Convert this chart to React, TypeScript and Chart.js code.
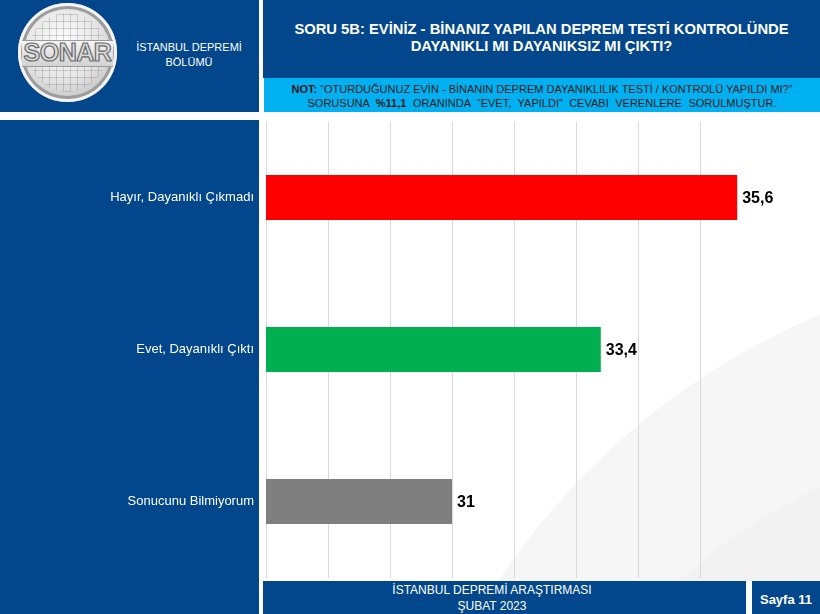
import React, { useEffect, useRef } from "react";
import { Chart, registerables } from "chart.js";

Chart.register(...registerables);

const categories = ["Hayır, Dayanıklı Çıkmadı", "Evet, Dayanıklı Çıktı", "Sonucunu Bilmiyorum"];
const values = [35.6, 33.4, 31];
const barColors = ["#FF0000", "#00B050", "#7F7F7F"];
const axisMin = 28;
const axisMax = 36;
const axisStep = 1;

const FONT = '"Liberation Sans", Arial, sans-serif';
const DARK = "#02478C";
const LIGHT = "#00B0F0";

const fmt = (v: number) => String(v).replace(".", ",");

const valueLabels = {
  id: "valueLabels",
  afterDatasetsDraw(chart: any) {
    const ctx = chart.ctx;
    const meta = chart.getDatasetMeta(0);
    ctx.save();
    ctx.font = `bold 16px ${FONT}`;
    ctx.fillStyle = "#000";
    ctx.textBaseline = "middle";
    ctx.textAlign = "left";
    meta.data.forEach((el: any, i: number) => {
      ctx.fillText(fmt(values[i]), el.x + 5, el.y + 1);
    });
    ctx.restore();
  },
};

function ChartCanvas() {
  const ref = useRef<HTMLCanvasElement | null>(null);
  useEffect(() => {
    if (!ref.current) return;
    const chart = new Chart(ref.current, {
      type: "bar",
      data: {
        labels: categories,
        datasets: [
          {
            data: values,
            backgroundColor: barColors,
            borderWidth: 0,
            barPercentage: 0.296,
            categoryPercentage: 1,
          },
        ],
      },
      options: {
        indexAxis: "y",
        animation: false,
        responsive: false,
        maintainAspectRatio: false,
        layout: { padding: { top: 9.5, bottom: 2.5, right: 58, left: 0 } },
        plugins: { legend: { display: false }, tooltip: { enabled: false } },
        scales: {
          x: {
            min: axisMin,
            max: axisMax,
            ticks: { stepSize: axisStep, display: false },
            grid: {
              drawTicks: false,
              color: (c: any) => (c.tick && c.tick.value === axisMax ? "rgba(0,0,0,0)" : "#D9D9D9"),
            },
            border: { display: false },
            afterFit: (s: any) => {
              s.height = 0;
              s.paddingLeft = 0;
              s.paddingRight = 0;
            },
          },
          y: {
            ticks: { color: "#FFFFFF", font: { family: FONT, size: 13 }, padding: 12 },
            grid: { display: false, drawTicks: false },
            border: { display: false },
            afterFit: (s: any) => {
              s.width = 266;
              s.paddingTop = 0;
              s.paddingBottom = 0;
            },
          },
        },
      },
      plugins: [valueLabels],
    });
    return () => chart.destroy();
  }, []);
  return (
    <canvas
      ref={ref}
      width={820}
      height={468}
      style={{ position: "absolute", left: 0, top: 112, width: 820, height: 468 }}
    />
  );
}

function Logo() {
  return (
    <div
      style={{
        position: "absolute",
        left: 18,
        top: 3,
        width: 99,
        height: 99,
        borderRadius: "50%",
        background: "radial-gradient(circle at 45% 40%, #ffffff 0%, #e6e6e6 45%, #a9a9a9 100%)",
        boxShadow: "inset 0 0 0 3px #f4f4f4, inset 0 0 0 6px #9c9c9c",
        overflow: "hidden",
      }}
    >
      <div
        style={{
          position: "absolute",
          left: 10,
          top: 10,
          width: 79,
          height: 79,
          borderRadius: "50%",
          backgroundImage:
            "repeating-linear-gradient(0deg, rgba(120,120,120,0.3) 0 1px, transparent 1px 7px), repeating-linear-gradient(90deg, rgba(120,120,120,0.3) 0 1px, transparent 1px 7px)",
        }}
      />
      <div
        style={{
          position: "absolute",
          left: 4,
          top: 37,
          width: 91,
          height: 25,
          background: "linear-gradient(#f6f6f6, #d2d2d2)",
          borderTop: "1px solid #9a9a9a",
          borderBottom: "1px solid #9a9a9a",
        }}
      />
      <div
        style={{
          position: "absolute",
          left: 0,
          top: 36,
          width: 99,
          textAlign: "center",
          fontFamily: FONT,
          fontWeight: "bold",
          fontSize: 25,
          lineHeight: "27px",
          color: "#dcdcdc",
          WebkitTextStroke: "1.2px #6a6a6a",
          letterSpacing: -0.5,
        }}
      >
        SONAR
      </div>
    </div>
  );
}

export default function App() {
  return (
    <div
      style={{
        position: "absolute",
        left: 0,
        top: 0,
        width: 820,
        height: 614,
        background: "#FFFFFF",
        overflow: "hidden",
        fontFamily: FONT,
      }}
    >
      {/* left header */}
      <div style={{ position: "absolute", left: 0, top: 0, width: 259, height: 112, background: DARK }} />
      <Logo />
      <div
        style={{
          position: "absolute",
          left: 129,
          top: 40,
          width: 120,
          textAlign: "center",
          color: "#FFFFFF",
          fontSize: 11,
          lineHeight: "15px",
        }}
      >
        İSTANBUL DEPREMİ
        <br />
        BÖLÜMÜ
      </div>

      {/* right header */}
      <div style={{ position: "absolute", left: 263, top: 0, width: 557, height: 78, background: DARK }} />
      <div
        style={{
          position: "absolute",
          left: 263,
          top: 21,
          width: 557,
          textAlign: "center",
          color: "#FFFFFF",
          fontWeight: "bold",
          fontSize: 14.75,
          lineHeight: "17px",
        }}
      >
        SORU 5B: EVİNİZ - BİNANIZ YAPILAN DEPREM TESTİ KONTROLÜNDE
        <br />
        DAYANIKLI MI DAYANIKSIZ MI ÇIKTI?
      </div>
      <div style={{ position: "absolute", left: 264, top: 78, width: 556, height: 34, background: LIGHT }} />
      <div
        style={{
          position: "absolute",
          left: 264,
          top: 82,
          width: 556,
          textAlign: "center",
          color: "#1A1A1A",
          fontSize: 11,
          lineHeight: "14px",
        }}
      >
        <b>NOT:</b> “OTURDUĞUNUZ EVİN - BİNANIN DEPREM DAYANIKLILIK TESTİ / KONTROLÜ YAPILDI MI?”
        <br />
        <span style={{ wordSpacing: 3.5 }}>
          SORUSUNA <b>%11,1</b> ORANINDA “EVET, YAPILDI” CEVABI VERENLERE SORULMUŞTUR.
        </span>
      </div>

      {/* left panel */}
      <div style={{ position: "absolute", left: 0, top: 120, width: 259, height: 494, background: DARK }} />

      {/* chart background with swoosh */}
      <div
        style={{
          position: "absolute",
          left: 263,
          top: 112,
          width: 557,
          height: 469,
          background: "#FFFFFF",
          overflow: "hidden",
        }}
      >
        <div
          style={{
            position: "absolute",
            left: 837 - 722,
            top: 868 - 722,
            width: 1444,
            height: 1444,
            borderRadius: "50%",
            background: "#F6F6F6",
          }}
        />
        <div
          style={{
            position: "absolute",
            left: 837 - 640,
            top: 950 - 640,
            width: 1280,
            height: 1280,
            borderRadius: "50%",
            background: "#F2F2F2",
          }}
        />
      </div>

      <ChartCanvas />

      {/* footer */}
      <div
        style={{
          position: "absolute",
          left: 263,
          top: 581,
          width: 483,
          height: 33,
          background: DARK,
        }}
      />
      <div
        style={{
          position: "absolute",
          left: 392,
          top: 582,
          width: 200,
          color: "#FFFFFF",
          textAlign: "center",
          fontSize: 12,
          lineHeight: "16px",
        }}
      >
        İSTANBUL DEPREMİ ARAŞTIRMASI
        <br />
        ŞUBAT 2023
      </div>
      <div
        style={{
          position: "absolute",
          left: 752,
          top: 581,
          width: 68,
          height: 33,
          background: DARK,
          color: "#FFFFFF",
          textAlign: "center",
          fontWeight: "bold",
          fontSize: 13,
          lineHeight: "33px",
          paddingTop: 2,
          boxSizing: "border-box",
        }}
      >
        Sayfa 11
      </div>
    </div>
  );
}
